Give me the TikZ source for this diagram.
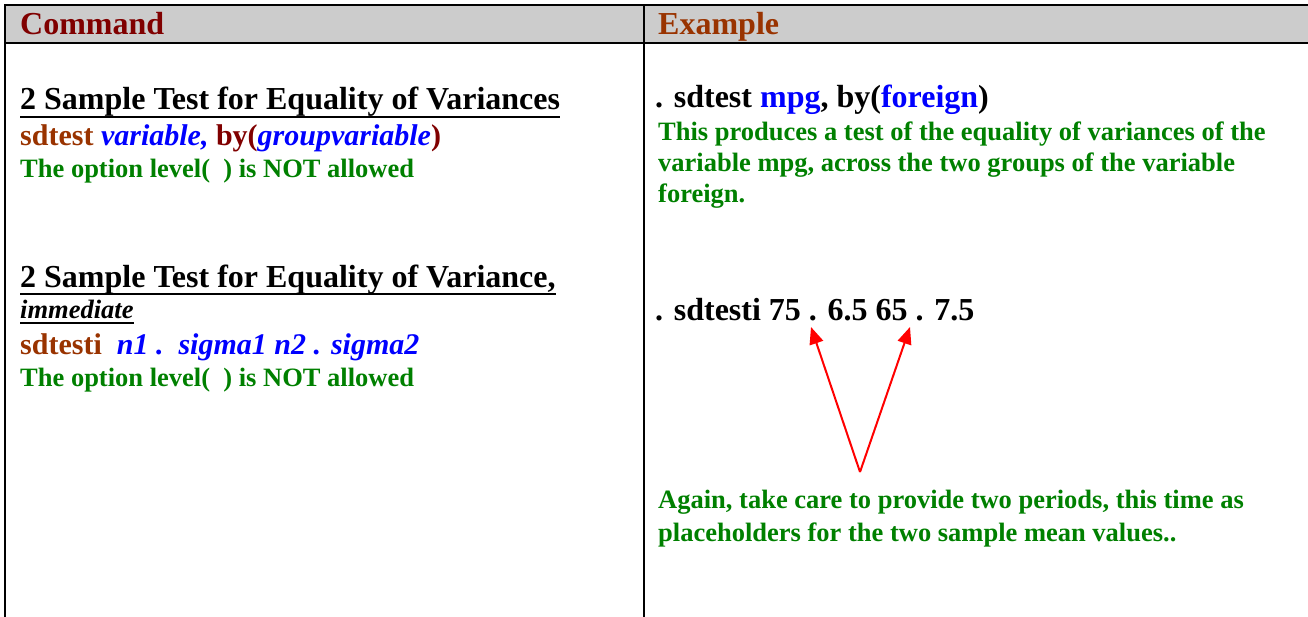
\documentclass[tikz,border=0pt]{standalone}
\usepackage{fontspec}
\setmainfont{Liberation Serif}
\usetikzlibrary{arrows.meta}

\definecolor{cmdred}{HTML}{800000}
\definecolor{cmdbrown}{HTML}{993300}
\definecolor{notegreen}{HTML}{008000}
\definecolor{argblue}{HTML}{0000FF}
\definecolor{hdrgrey}{HTML}{CCCCCC}

\newcommand{\hdsize}{\fontsize{32bp}{38bp}\selectfont\bfseries}
\newcommand{\cmdsize}{\fontsize{30bp}{36bp}\selectfont\bfseries}
\newcommand{\notesize}{\fontsize{26.5bp}{31bp}\selectfont\bfseries}

\tikzset{
  rule/.style={line width=2.6bp},
  underrule/.style={line width=2.6bp},
  pointer/.style={draw=red,line width=2bp,-{Triangle[length=17bp,width=14bp]}}
}

\begin{document}
\begin{tikzpicture}[x=1bp,y=-1bp]

      \useasboundingbox (0,0) rectangle (1308,617);
      \fill[hdrgrey] (5,5) rectangle (1308,43);
      \draw[rule] (1308,5) -- (5,5) -- (5,617);
      \draw[rule] (5,43) -- (1308,43);
      \draw[rule] (644,5) -- (644,617);

      \begin{scope}[every node/.style={anchor=base west,inner sep=0pt}]
        \node[text=cmdred]   (cmdhead) at (20,35)  {\hdsize Command};
        \node[text=cmdbrown] (exhead)  at (658,35) {\hdsize Example};

        \node (title1) at (20,110) {\hdsize 2 Sample Test for Equality of Variances};
        \node (syntax1) at (20,146) {\cmdsize\textcolor{cmdbrown}{sdtest}
          \textcolor{argblue}{\itshape variable,} \textcolor{cmdred}{by(\textcolor{argblue}{\itshape groupvariable})}};
        \node[text=notegreen] (note1) at (20,178) {\notesize The option level(~~) is NOT allowed};

        \node (title2) at (20,287) {\hdsize 2 Sample Test for Equality of Variance,};
        \node (immed) at (20,318) {\notesize\itshape immediate};
        \node (syntax2) at (20,354) {\cmdsize\textcolor{cmdbrown}{sdtesti}~~\textcolor{argblue}{\itshape n1 .~~sigma1 n2 . sigma2}};
        \node[text=notegreen] (note2) at (20,386) {\notesize The option level(~~) is NOT allowed};

        \node (ex1) at (655,108) {\hdsize . sdtest \textcolor{argblue}{mpg}, by(\textcolor{argblue}{foreign})};
        \node[text=notegreen] (ex1a) at (658,141) {\notesize This produces a test of the equality of variances of the};
        \node[text=notegreen] (ex1b) at (658,172) {\notesize variable mpg, across the two groups of the variable};
        \node[text=notegreen] (ex1c) at (658,202) {\notesize foreign.};

        \node (ex2) at (655,320) {\hdsize . sdtesti 75 . 6.5 65 . 7.5};
        \node[text=notegreen] (ex2a) at (658,508) {\notesize Again, take care to provide two periods, this time as};
        \node[text=notegreen] (ex2b) at (658,541) {\notesize placeholders for the two sample mean values..};
      \end{scope}

      \draw[underrule] ([yshift=-7bp]title1.base west) -- ([yshift=-7bp]title1.base east);
      \draw[underrule] ([yshift=-7bp]title2.base west) -- ([yshift=-7bp]title2.base east);
      \draw[underrule] ([yshift=-5bp]immed.base west) -- ([yshift=-5bp]immed.base east);

      \coordinate (tail) at (860,472);
      \coordinate (dot1) at (811,327);
      \coordinate (dot2) at (910,327);

      \draw[pointer] (tail) -- (dot1);
      \draw[pointer] (tail) -- (dot2);

    \end{tikzpicture}
\end{document}
